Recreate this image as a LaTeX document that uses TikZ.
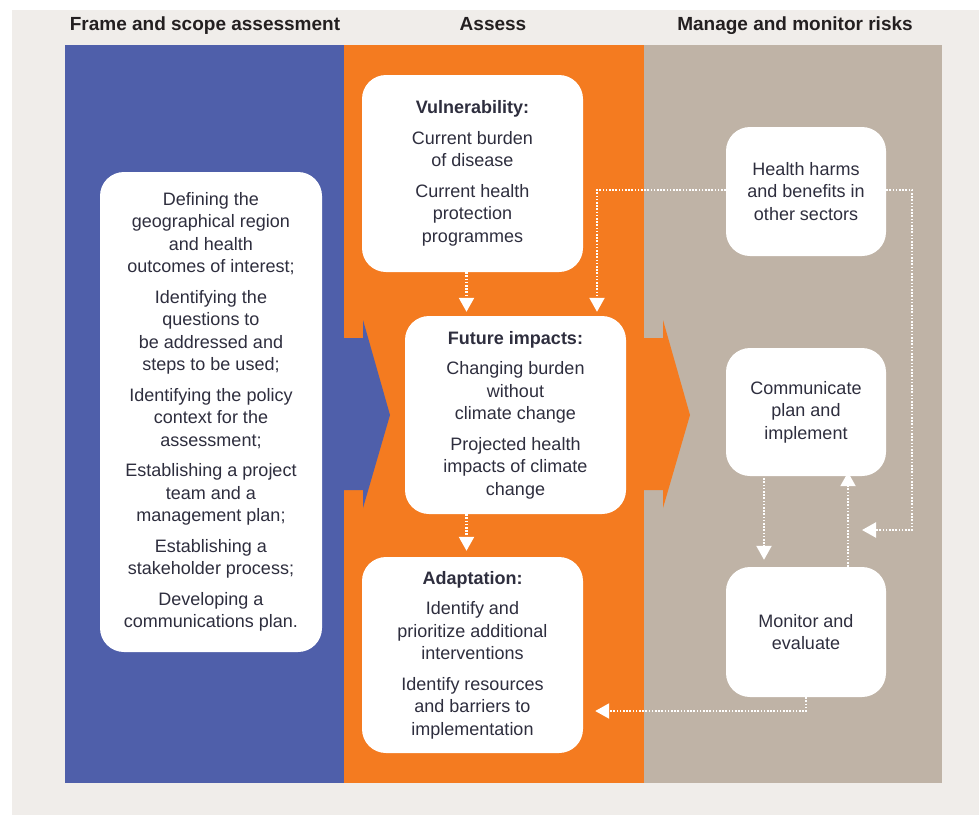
\documentclass[tikz,border=0pt]{standalone}
\usepackage{fontspec}
\setmainfont{Liberation Sans}
\usetikzlibrary{arrows.meta}
\definecolor{pagebg}{HTML}{F0EDEA}
\definecolor{frameblue}{HTML}{4F5FAA}
\definecolor{assessorange}{HTML}{F47B20}
\definecolor{managegrey}{HTML}{BFB3A6}
\definecolor{txt}{HTML}{2E2E3E}
\definecolor{headtxt}{HTML}{231F20}
\tikzset{
  box/.style={fill=white, rounded corners=24pt, align=center, text=txt,
    font=\fontsize{18}{22.5}\selectfont, inner sep=0pt},
  head/.style={text=headtxt, font=\bfseries\fontsize{19}{22}\selectfont, anchor=base},
  flow/.style={draw=white, line width=2.2pt, dash pattern=on 1.6pt off 1.6pt,
    -{Triangle[width=15pt,length=14pt,fill=white]}},
}
\begin{document}
\begin{tikzpicture}[x=1pt,y=-1pt]
\useasboundingbox (0,0) rectangle (979,815);
% page
\fill[white] (0,0) rectangle (979,815);
\fill[pagebg] (12,10) rectangle (979,815);
% column bands
\fill[frameblue] (65,45) rectangle (344,783);
\fill[assessorange] (344,45) rectangle (644,783);
\fill[managegrey] (644,45) rectangle (942,783);
% chevrons between columns
\fill[frameblue] (343,338) -- (363,338) -- (363,320) -- (390,415) -- (363,508) -- (363,490) -- (343,490) -- cycle;
\fill[assessorange] (643,338) -- (663,338) -- (663,320) -- (690,415) -- (663,508) -- (663,490) -- (643,490) -- cycle;
% column headings
\node[head] (h1) at (205,30) {Frame and scope assessment};
\node[head] (h2) at (493,30) {Assess};
\node[head] (h3) at (795,30) {Manage and monitor risks};
% boxes
\node[box, minimum width=222pt, minimum height=480pt] (scope) at (211,412)
  {Defining the\\geographical region\\and health\\outcomes of interest;\\[8pt]
   Identifying the\\questions to\\be addressed and\\steps to be used;\\[8pt]
   Identifying the policy\\context for the\\assessment;\\[8pt]
   Establishing a project\\team and a\\management plan;\\[8pt]
   Establishing a\\stakeholder process;\\[8pt]
   Developing a\\communications plan.};
\node[box, minimum width=221pt, minimum height=197pt] (vul) at (472.5,173.5)
  {\textbf{Vulnerability:}\\[8pt]Current burden\\of disease\\[8pt]Current health\\protection\\programmes};
\node[box, minimum width=221pt, minimum height=198pt] (fut) at (515.5,415)
  {\textbf{Future impacts:}\\[8pt]Changing burden\\without\\climate change\\[8pt]Projected health\\impacts of climate\\change};
\node[box, minimum width=221pt, minimum height=196pt] (ada) at (472.5,655)
  {\textbf{Adaptation:}\\[8pt]Identify and\\prioritize additional\\interventions\\[8pt]Identify resources\\and barriers to\\implementation};
\node[box, minimum width=160pt, minimum height=129pt] (hh) at (806,191.5)
  {Health harms\\and benefits in\\other sectors};
\node[box, minimum width=160pt, minimum height=128pt] (com) at (806,412)
  {Communicate\\plan and\\implement};
\node[box, minimum width=160pt, minimum height=130pt] (mon) at (806,632)
  {Monitor and\\evaluate};
% dotted connectors
\draw[flow] ([xshift=-6pt]vul.south) -- ([xshift=-6pt,yshift=4pt]vul.south |- fut.north);
\draw[flow] ([xshift=-49pt]fut.south) -- ([xshift=-49pt,yshift=6pt]fut.south |- ada.north);
\coordinate (hhleft) at (597,190);
\draw[flow] (hh.west |- hhleft) -- (hhleft) -- ([yshift=4pt]hhleft |- fut.north);
\coordinate (loopTR) at (912,190);
\coordinate (loopBR) at (912,530);
\coordinate (loopEnd) at (862,530);
\draw[flow] (hh.east |- loopTR) -- (loopTR) -- (loopBR) -- (loopEnd);
\draw[flow] ([xshift=-42pt,yshift=-2pt]com.south) -- ([xshift=-42pt,yshift=7pt]com.south |- mon.north);
\draw[flow] ([xshift=42pt]mon.north) -- ([xshift=42pt,yshift=4pt]mon.north |- com.south);
\coordinate (monDown) at (806,711);
\draw[flow] (mon.south) -- (monDown) -- ([xshift=12pt]ada.east |- monDown);
\end{tikzpicture}
\end{document}
